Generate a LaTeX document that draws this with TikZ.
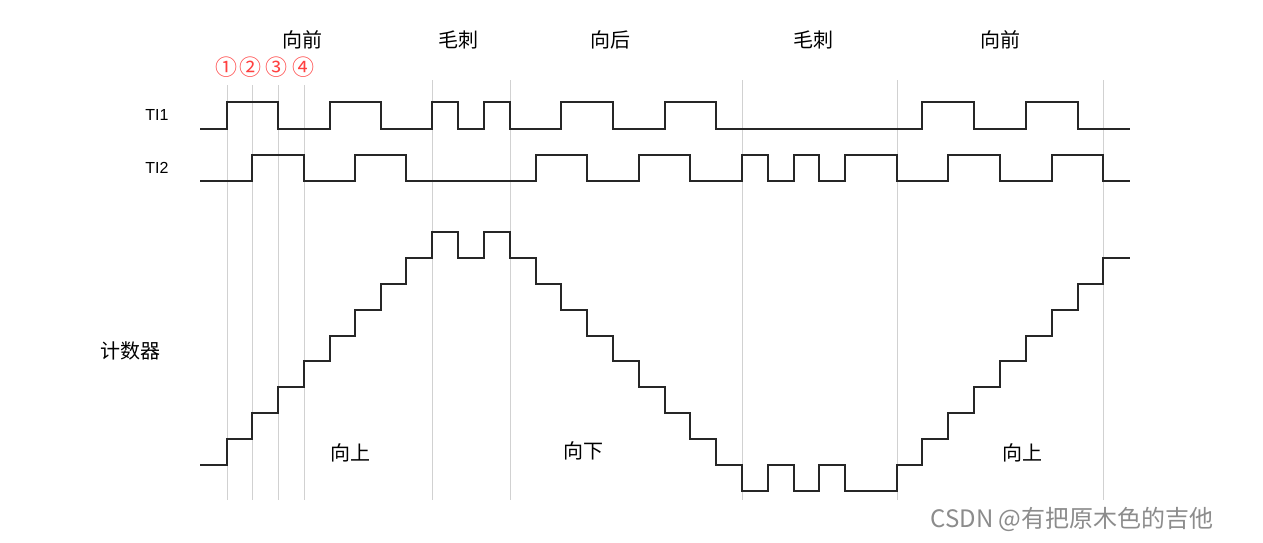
\documentclass[tikz,border=0pt]{standalone}
\usepackage{fontspec}
\setmainfont{Liberation Sans}
\newfontfamily\cjk{Noto Sans CJK SC}
\newfontfamily\dv{DejaVu Sans}
\begin{document}
\begin{tikzpicture}[x=1pt,y=-1pt,
  wave/.style={line width=2pt,line join=miter,color=black!85},
  grid/.style={line width=0.7pt,color=black!18},
  lab/.style={font=\cjk\fontsize{20}{20}\selectfont},
  sig/.style={font=\fontsize{16}{16}\selectfont},
  num/.style={font=\cjk\fontsize{22}{22}\selectfont,text=red!75,inner sep=0pt}]
\useasboundingbox (0,0) rectangle (1263,543);
\fill[white] (0,0) rectangle (1263,543);
% grid lines
\foreach \x in {227,252,278,304} \draw[grid] (\x,85) -- (\x,500);
\foreach \x in {432,510,742,897,1103} \draw[grid] (\x,80) -- (\x,500);
% TI1
\draw[wave] (200,129) -| (227,102) -| (278,129) -| (330,102) -| (381,129) -| (432,102) -| (458,129) -| (484,102) -| (510,129) -| (561,102) -| (613,129) -| (665,102) -| (716,129) -| (922,102) -| (974,129) -| (1026,102) -| (1078,129) -- (1130,129);
% TI2
\draw[wave] (200,181) -| (252,155) -| (304,181) -| (355,155) -| (406,181) -| (536,155) -| (587,181) -| (639,155) -| (690,181) -| (742,155) -| (768,181) -| (794,155) -| (819,181) -| (845,155) -| (897,181) -| (948,155) -| (1000,181) -| (1052,155) -| (1103,181) -- (1130,181);
% counter
\draw[wave] (200,465) -| (227,439) -| (252,413) -| (278,387) -| (304,361) -| (330,336) -| (355,310) -| (381,284) -| (406,258) -| (432,232) -| (458,258) -| (484,232) -| (510,258) -| (536,284) -| (561,310) -| (587,336) -| (613,361) -| (639,387) -| (665,413) -| (690,439) -| (716,465) -| (742,491) -| (768,465) -| (794,491) -| (819,465) -| (845,491) -| (897,465) -| (922,439) -| (948,413) -| (974,387) -| (1000,361) -| (1026,336) -| (1052,310) -| (1078,284) -| (1103,258) -- (1130,258);
% labels
\node[lab] (l1) at (302,40) {向前};
\node[lab] (l2) at (458,40) {毛刺};
\node[lab] (l3) at (610,40) {向后};
\node[lab] (l4) at (813,40) {毛刺};
\node[lab] (l5) at (1000,40) {向前};
\node[num] (n1) at (226,67) {①};
\node[num] (n2) at (250,67) {②};
\node[num] (n3) at (276,67) {③};
\node[num] (n4) at (303,67) {④};
\node[sig] (t1) at (157,115) {TI1};
\node[sig] (t2) at (157,168) {TI2};
\node[lab] (c) at (130,351) {计数器};
\node[lab] (u1) at (350,453) {向上};
\node[lab] (d) at (583,451) {向下};
\node[lab] (u2) at (1022,453) {向上};
\node[font=\cjk\fontsize{24}{24}\selectfont,text=black!45] (wm) at (1072,519) {CSDN @有把原木色的吉他};
\end{tikzpicture}
\end{document}
